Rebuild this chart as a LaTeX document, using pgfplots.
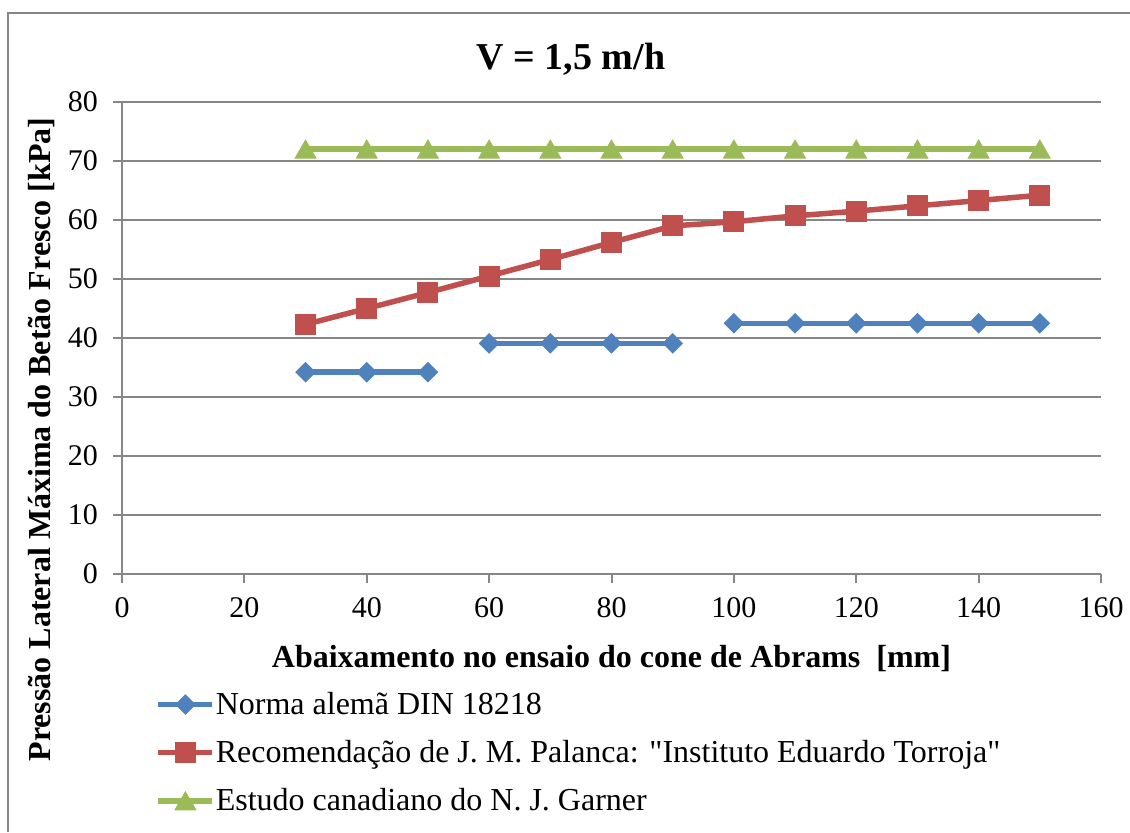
\documentclass[border=0pt]{standalone}
\usepackage{fontspec}
\setmainfont{Liberation Serif}[Ligatures=TeXOff]
\usepackage{pgfplots}
\pgfplotsset{compat=1.18}
\definecolor{gblue}{HTML}{4F81BD}
\definecolor{gred}{HTML}{C0504D}
\definecolor{ggreen}{HTML}{9BBB59}
\definecolor{axgray}{HTML}{868686}
\begin{document}
\begin{tikzpicture}
\useasboundingbox (0,0) rectangle (565pt,416pt);
\draw[axgray, line width=1pt] (4pt,0pt) -- (4pt,409.5pt) -- (566pt,409.5pt);
\node[anchor=base, font=\fontsize{19}{22}\selectfont\bfseries] at (285.5pt,381pt) {V = 1,5 m/h};
\begin{axis}[
  at={(61pt,129pt)}, anchor=south west,
  scale only axis, width=489.5pt, height=236pt,
  xmin=0, xmax=160, ymin=0, ymax=80,
  xtick={0,20,...,160}, ytick={0,10,...,80},
  axis x line*=bottom, axis y line*=left,
  axis line style={axgray, line width=1pt, -},
  ymajorgrids, grid style={axgray, line width=1pt},
  tick align=outside, major tick length=4.5pt,
  tick style={axgray, line width=1pt},
  ticklabel style={font=\fontsize{15}{18}\selectfont},
  /pgf/number format/assume math mode=true,
  yticklabel style={xshift=-4pt},
  xticklabel style={yshift=-3.5pt},
  xlabel={Abaixamento no ensaio do cone de Abrams\ \ [mm]},
  xlabel style={font=\fontsize{16}{19}\selectfont\bfseries, at={(axis description cs:0.5,-0.199)}, anchor=base},
  ylabel={Pressão Lateral Máxima do Betão Fresco [kPa]},
  ylabel style={font=\fontsize{16}{19}\selectfont\bfseries, at={(axis description cs:-0.082,0.285)}, anchor=center, rotate=0},
  unbounded coords=jump,
  legend style={at={(axis description cs:0.034,-0.249)}, anchor=north west, draw=none, fill=none,
    font=\fontsize{16}{19}\selectfont, row sep=11.5pt, inner sep=0pt,
    nodes={inner xsep=0.3pt, inner ysep=0pt}},
  legend cell align=left,
  legend image code/.code={\draw[#1, mark repeat=2, mark phase=2] plot coordinates {(0pt,0pt) (13.5pt,0pt) (27pt,0pt)};},
]
\addplot[gblue, line width=2.75pt, mark=square*, mark size=3.4pt, mark options={rotate=45, solid, line width=0.5pt}]
 coordinates {(30,34.2) (40,34.2) (50,34.2) (55,nan) (60,39.1) (70,39.1) (80,39.1) (90,39.1) (95,nan)
 (100,42.5) (110,42.5) (120,42.5) (130,42.5) (140,42.5) (150,42.5)};
\addlegendentry{Norma alemã DIN 18218}
\addplot[gred, line width=2.75pt, mark=square*, mark size=5pt, mark options={solid, line width=0.5pt}]
 coordinates {(30,42.3) (40,45.0) (50,47.7) (60,50.5) (70,53.3) (80,56.2) (90,59.0)
 (100,59.7) (110,60.7) (120,61.5) (130,62.4) (140,63.3) (150,64.2)};
\addlegendentry{Recomendação de J. M. Palanca: "Instituto Eduardo Torroja"}
\addplot[ggreen, line width=2.75pt, mark=triangle*, mark size=6pt, mark options={solid, line width=0.5pt, yshift=-1.5pt}]
 coordinates {(30,72) (40,72) (50,72) (60,72) (70,72) (80,72) (90,72)
 (100,72) (110,72) (120,72) (130,72) (140,72) (150,72)};
\addlegendentry{Estudo canadiano do N. J. Garner}
\end{axis}
\end{tikzpicture}
\end{document}
